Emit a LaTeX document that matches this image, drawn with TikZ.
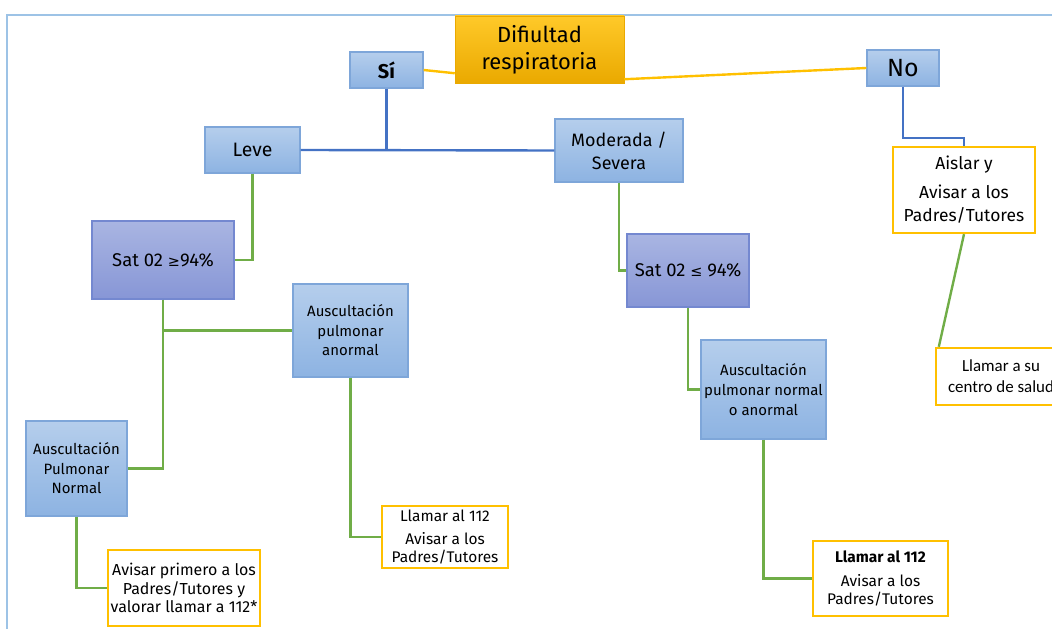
\documentclass[tikz,border=0pt]{standalone}
\usepackage{fontspec}
\setmainfont{Fira Sans}
\newfontfamily\calib{Carlito}
\newfontfamily\symf{DejaVu Sans}
\usetikzlibrary{calc}
\definecolor{framec}{HTML}{9DC3E6}
\definecolor{bxtop}{HTML}{B5CEEC}
\definecolor{bxbot}{HTML}{8DB3E2}
\definecolor{bxbord}{HTML}{7EA6D9}
\definecolor{sttop}{HTML}{A9B5E2}
\definecolor{stbot}{HTML}{8796D6}
\definecolor{stbord}{HTML}{7488D0}
\definecolor{goldtop}{HTML}{FFC929}
\definecolor{goldbot}{HTML}{EAA900}
\definecolor{ylw}{HTML}{FFC000}
\definecolor{grn}{HTML}{70AD47}
\definecolor{blu}{HTML}{4472C4}
\newcommand{\fs}[2]{\fontsize{#1}{#2}\selectfont}
\tikzset{
  bluebox/.style={draw=bxbord, line width=1.2pt, top color=bxtop, bottom color=bxbot, align=center, inner sep=1pt, text=black},
  satbox/.style={draw=stbord, line width=1.2pt, top color=sttop, bottom color=stbot, align=center, inner sep=1pt, text=black},
  ybox/.style={draw=ylw, line width=2.4pt, fill=white, align=center, inner sep=1pt, text=black},
  titlebox/.style={draw=goldbot, line width=0.5pt, top color=goldtop, bottom color=goldbot, align=center, inner sep=1pt, text=black},
  gline/.style={draw=grn, line width=2.4pt},
  bline/.style={draw=blu, line width=2.4pt},
  yline/.style={draw=ylw, line width=2.4pt},
}
\begin{document}
\begin{tikzpicture}[x=1bp,y=-1bp]
\useasboundingbox (0,0) rectangle (1052,629);
\clip (0,0) rectangle (1052,629);
\draw[framec, line width=2.2pt] (7,660) -- (7,15) -- (1080,15);
% nodes
\node[titlebox, minimum width=169bp, minimum height=67bp, font=\fs{22}{27}] (title) at (539.5,49.5) {Difiultad\\respiratoria};
\node[bluebox, minimum width=73bp, minimum height=36bp, font=\fs{20}{24}\bfseries] (si) at (386.5,70) {Sí};
\node[bluebox, minimum width=72bp, minimum height=36bp, font=\fs{25}{28}] (no) at (903,68) {No};
\node[bluebox, minimum width=95bp, minimum height=46bp, font=\fs{19.5}{22}] (leve) at (252.5,150) {Leve};
\node[bluebox, minimum width=128bp, minimum height=63bp, font=\fs{18}{23}] (mod) at (619,150.5) {Moderada /\\Severa};
\node[ybox, minimum width=142bp, minimum height=86bp, font=\fs{17.5}{23}] (aislar) at (964,190) {Aislar y\\[6bp]Avisar a los\\Padres/Tutores};
\node[ybox, minimum width=130bp, minimum height=57bp, font=\calib\fs{17}{21}] (centro) at (1001,376.5) {Llamar a su\\centro de salud};
\node[satbox, minimum width=142bp, minimum height=78bp, font=\fs{18.5}{22}] (sat1) at (163,260) {Sat 02 {\symf\fs{14.5}{22}≥}94\%};
\node[bluebox, minimum width=115bp, minimum height=93bp, font=\fs{15}{19.5}] (anormal) at (350.5,330.5) {Auscultación\\pulmonar\\anormal};
\node[bluebox, minimum width=101bp, minimum height=95bp, font=\fs{15}{19.5}] (normal) at (76.5,468.5) {Auscultación\\Pulmonar\\Normal};
\node[ybox, minimum width=152bp, minimum height=76bp, font=\fs{16}{18.5}] (av1) at (184,588) {Avisar primero a los\\Padres/Tutores y\\valorar llamar a 112*};
\node[ybox, minimum width=126bp, minimum height=62bp, font=\fs{15.5}{17.5}] (ll1) at (445,537) {Llamar al 112\\[6bp]Avisar a los\\Padres/Tutores};
\node[satbox, minimum width=122bp, minimum height=73bp, font=\fs{18.5}{22}] (sat2) at (688,270.5) {Sat 02 {\symf\fs{14.5}{22}≤} 94\%};
\node[bluebox, minimum width=125bp, minimum height=99bp, font=\fs{15}{20}] (ausc2) at (763.5,389.5) {Auscultación\\pulmonar normal\\o anormal};
\node[ybox, minimum width=135bp, minimum height=75bp, font=\fs{15.5}{19}] (ll2) at (880.5,578.5) {\textbf{Llamar al 112}\\[5bp]Avisar a los\\Padres/Tutores};
% connectors
\draw[yline] (si.east) -- ($(title.south west)+(0,-10)$);
\draw[yline] ($(title.south east)+(0,-4)$) -- (no.west);
\draw[bline] (si.south) -- (si.south |- leve.east);
\draw[bline] (leve.east) -- (mod.west);
\draw[bline] (no.south) |- ($(aislar.north)+(0,-8)$) -- (aislar.north);
\draw[gline] (aislar.south) -- ($(centro.north west)+(4,0)$);
\draw[gline] (leve.south) |- (sat1.east);
\draw[gline] (sat1.south) |- (anormal.west);
\draw[gline] (sat1.south) |- (normal.east);
\draw[gline] (normal.south) |- (av1.west);
\draw[gline] (anormal.south) |- (ll1.west);
\draw[gline] (mod.south) |- (sat2.west);
\draw[gline] (sat2.south) |- (ausc2.west);
\draw[gline] (ausc2.south) |- (ll2.west);
\end{tikzpicture}
\end{document}
